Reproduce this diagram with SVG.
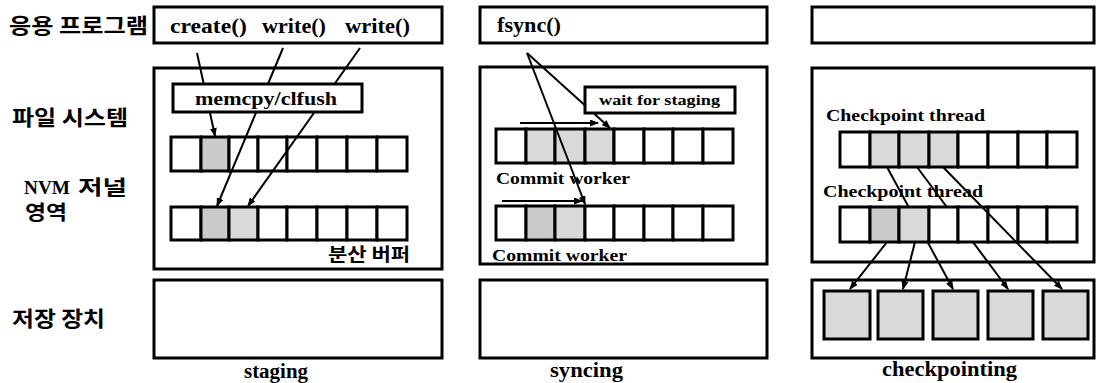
<svg xmlns="http://www.w3.org/2000/svg" width="1097" height="383" viewBox="0 0 1097 383">
<style>
.box{fill:#fff;stroke:#000;stroke-width:3}
.c{fill:#fff;stroke:#000;stroke-width:3}
.d{fill:#cacaca;stroke:#000;stroke-width:3}
.l{fill:#d9d9d9;stroke:#000;stroke-width:3}
.ln{fill:none;stroke:#000;stroke-width:2}
.ko{font-family:"Noto Sans CJK KR","Noto Sans",sans-serif;font-weight:bold;fill:#000}
.se{font-family:"Liberation Serif",serif;font-weight:bold;fill:#000}
</style>
<defs>
<marker id="ah" markerUnits="userSpaceOnUse" markerWidth="9" markerHeight="7" refX="8" refY="3.5" orient="auto">
<path d="M0,0 L9,3.5 L0,7 z" fill="#000"/>
</marker>
</defs>
<rect width="1097" height="383" fill="#fff"/>

<g id="row-labels">
<text class="ko" x="9" y="33" font-size="21" textLength="139" lengthAdjust="spacingAndGlyphs">응용 프로그램</text>
<text class="ko" x="12" y="125" font-size="21" textLength="116" lengthAdjust="spacingAndGlyphs">파일 시스템</text>
<text class="se" x="24" y="194" font-size="19" textLength="46" lengthAdjust="spacingAndGlyphs">NVM</text>
<text class="ko" x="78" y="195" font-size="20" textLength="49" lengthAdjust="spacingAndGlyphs">저널</text>
<text class="ko" x="25" y="220" font-size="20" textLength="42" lengthAdjust="spacingAndGlyphs">영역</text>
<text class="ko" x="12" y="326" font-size="21" textLength="93" lengthAdjust="spacingAndGlyphs">저장 장치</text>
</g>

<!-- Panel 1: staging -->
<g id="p1-app">
<rect class="box" x="154" y="7" width="288" height="36"/>
<text class="se" x="170" y="33" font-size="20" textLength="77" lengthAdjust="spacingAndGlyphs">create()</text>
<text class="se" x="262" y="33" font-size="20" textLength="64" lengthAdjust="spacingAndGlyphs">write()</text>
<text class="se" x="345" y="33" font-size="20" textLength="65" lengthAdjust="spacingAndGlyphs">write()</text>
</g>
<g id="p1-fs">
<rect class="box" x="154" y="68" width="288" height="201"/>
<text class="ko" x="328" y="261" font-size="18" textLength="82" lengthAdjust="spacingAndGlyphs">분산 버퍼</text>
</g>
<g id="p1-row1">
<rect class="c" x="171" y="137" width="30" height="34"/>
<rect class="d" x="201" y="137" width="28" height="34"/>
<rect class="c" x="229" y="137" width="29" height="34"/>
<rect class="c" x="258" y="137" width="29" height="34"/>
<rect class="c" x="287" y="137" width="30" height="34"/>
<rect class="c" x="317" y="137" width="30" height="34"/>
<rect class="c" x="347" y="137" width="30" height="34"/>
<rect class="c" x="377" y="137" width="30" height="34"/>
</g>
<g id="p1-row2">
<rect class="c" x="171" y="207" width="30" height="33"/>
<rect class="d" x="201" y="207" width="28" height="33"/>
<rect class="l" x="229" y="207" width="29" height="33"/>
<rect class="c" x="258" y="207" width="29" height="33"/>
<rect class="c" x="287" y="207" width="30" height="33"/>
<rect class="c" x="317" y="207" width="30" height="33"/>
<rect class="c" x="347" y="207" width="30" height="33"/>
<rect class="c" x="377" y="207" width="30" height="33"/>
</g>
<g id="p1-connectors">
<line class="ln" x1="197" y1="53" x2="215" y2="136" marker-end="url(#ah)"/>
<line class="ln" x1="283" y1="48" x2="217" y2="206" marker-end="url(#ah)"/>
<line class="ln" x1="360" y1="48" x2="248" y2="206" marker-end="url(#ah)"/>
</g>
<g id="p1-memcpy">
<rect class="box" x="173" y="84" width="189" height="28"/>
<text class="se" x="195" y="105" font-size="19" textLength="142" lengthAdjust="spacingAndGlyphs">memcpy/clfush</text>
</g>
<g id="p1-storage">
<rect class="box" x="154" y="280" width="288" height="78"/>
</g>
<text class="se" x="244" y="378" font-size="20" textLength="64" lengthAdjust="spacingAndGlyphs">staging</text>

<!-- Panel 2: syncing -->
<g id="p2-app">
<rect class="box" x="480" y="7" width="287" height="36"/>
<text class="se" x="497" y="32" font-size="20" textLength="64" lengthAdjust="spacingAndGlyphs">fsync()</text>
</g>
<g id="p2-fs">
<rect class="box" x="480" y="67" width="287" height="197"/>
<text class="se" x="496" y="184" font-size="17" textLength="134" lengthAdjust="spacingAndGlyphs">Commit worker</text>
<text class="se" x="492" y="261" font-size="17" textLength="135" lengthAdjust="spacingAndGlyphs">Commit worker</text>
</g>
<g id="p2-row1">
<rect class="c" x="496" y="129" width="30" height="34"/>
<rect class="l" x="526" y="129" width="29" height="34"/>
<rect class="l" x="555" y="129" width="30" height="34"/>
<rect class="l" x="585" y="129" width="29" height="34"/>
<rect class="c" x="614" y="129" width="30" height="34"/>
<rect class="c" x="644" y="129" width="29" height="34"/>
<rect class="c" x="673" y="129" width="30" height="34"/>
<rect class="c" x="703" y="129" width="30" height="34"/>
</g>
<g id="p2-row2">
<rect class="c" x="496" y="206" width="30" height="34"/>
<rect class="d" x="526" y="206" width="29" height="34"/>
<rect class="l" x="555" y="206" width="30" height="34"/>
<rect class="c" x="585" y="206" width="29" height="34"/>
<rect class="c" x="614" y="206" width="30" height="34"/>
<rect class="c" x="644" y="206" width="29" height="34"/>
<rect class="c" x="673" y="206" width="30" height="34"/>
<rect class="c" x="703" y="206" width="30" height="34"/>
</g>
<g id="p2-connectors">
<line class="ln" x1="527" y1="53" x2="610" y2="128" marker-end="url(#ah)"/>
<line class="ln" x1="527" y1="53" x2="585" y2="204" marker-end="url(#ah)"/>
<line class="ln" x1="520" y1="123" x2="598" y2="123" marker-end="url(#ah)"/>
<line class="ln" x1="502" y1="201" x2="582" y2="201" stroke-width="3" marker-end="url(#ah)"/>
</g>
<g id="p2-wait">
<rect class="box" x="585" y="87" width="150" height="26"/>
<text class="se" x="599" y="105" font-size="15" textLength="121" lengthAdjust="spacingAndGlyphs">wait for staging</text>
</g>
<g id="p2-storage">
<rect class="box" x="480" y="280" width="287" height="78"/>
</g>
<text class="se" x="550" y="377" font-size="20" textLength="73" lengthAdjust="spacingAndGlyphs">syncing</text>

<!-- Panel 3: checkpointing -->
<g id="p3-app">
<rect class="box" x="812" y="7" width="282" height="36"/>
</g>
<g id="p3-fs">
<rect class="box" x="812" y="68" width="282" height="194"/>
<text class="se" x="826" y="121" font-size="17" textLength="159" lengthAdjust="spacingAndGlyphs">Checkpoint thread</text>
<text class="se" x="823" y="197" font-size="17" textLength="160" lengthAdjust="spacingAndGlyphs">Checkpoint thread</text>
</g>
<g id="p3-storage">
<rect class="box" x="812" y="280" width="282" height="78"/>
<rect class="l" x="824" y="291" width="46" height="48"/>
<rect class="l" x="878" y="291" width="45" height="48"/>
<rect class="l" x="933" y="291" width="45" height="48"/>
<rect class="l" x="988" y="291" width="45" height="48"/>
<rect class="l" x="1043" y="291" width="45" height="48"/>
</g>
<g id="p3-row1">
<rect class="c" x="840" y="132" width="30" height="35"/>
<rect class="l" x="870" y="132" width="29" height="35"/>
<rect class="l" x="899" y="132" width="30" height="35"/>
<rect class="l" x="929" y="132" width="29" height="35"/>
<rect class="c" x="958" y="132" width="30" height="35"/>
<rect class="c" x="988" y="132" width="30" height="35"/>
<rect class="c" x="1018" y="132" width="29" height="35"/>
<rect class="c" x="1047" y="132" width="30" height="35"/>
</g>
<g id="p3-connectors-under">
<line class="ln" x1="887" y1="167" x2="953" y2="289" marker-end="url(#ah)"/>
<line class="ln" x1="917" y1="167" x2="1008" y2="289" marker-end="url(#ah)"/>
</g>
<g id="p3-row2">
<rect class="c" x="840" y="207" width="30" height="35"/>
<rect class="d" x="870" y="207" width="29" height="35"/>
<rect class="l" x="899" y="207" width="30" height="35"/>
<rect class="c" x="929" y="207" width="29" height="35"/>
<rect class="c" x="958" y="207" width="30" height="35"/>
<rect class="c" x="988" y="207" width="30" height="35"/>
<rect class="c" x="1018" y="207" width="29" height="35"/>
<rect class="c" x="1047" y="207" width="30" height="35"/>
</g>
<g id="p3-connectors">
<line class="ln" x1="943" y1="167" x2="1062" y2="289" marker-end="url(#ah)"/>
<line class="ln" x1="887" y1="242" x2="850" y2="289" marker-end="url(#ah)"/>
<line class="ln" x1="915" y1="242" x2="903" y2="289" marker-end="url(#ah)"/>
</g>
<text class="se" x="882" y="376" font-size="20" textLength="135" lengthAdjust="spacingAndGlyphs">checkpointing</text>
</svg>
